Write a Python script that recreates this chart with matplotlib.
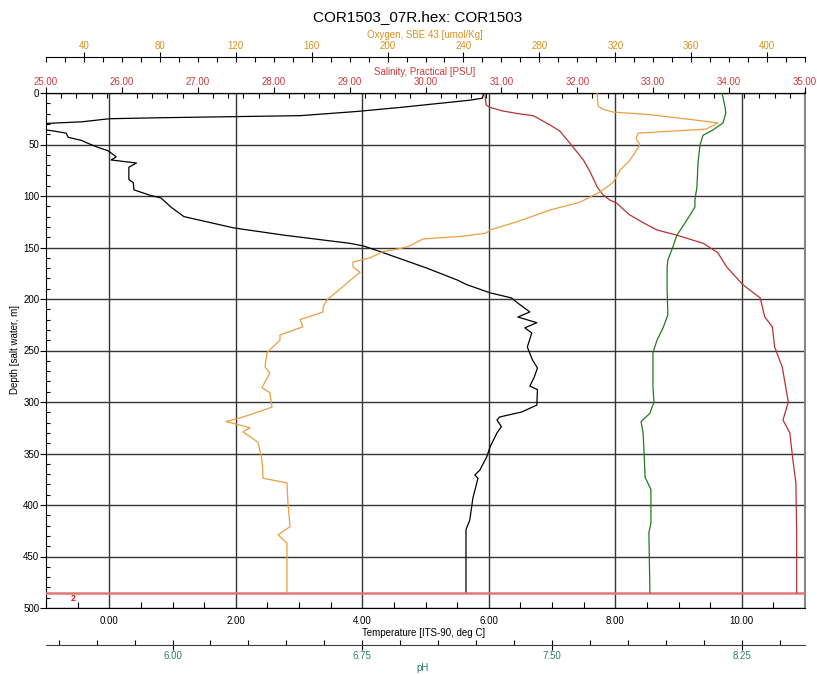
import matplotlib
matplotlib.use('Agg')
import matplotlib.pyplot as plt
from matplotlib.ticker import MultipleLocator, FormatStrFormatter

# Perfil CTD, profundidad en metros
temp_depth = [0, 5, 7, 14, 18, 22, 24, 25, 28, 29.5, 31, 34, 36, 37, 39, 43, 46, 49, 53, 56,
              62, 65, 68, 72, 84, 87, 94, 99, 102, 111, 120, 131, 138, 146, 148.5, 155, 170,
              181.5, 186, 194, 199, 204, 212.6, 217.5, 223, 228, 233, 246.6, 259, 267, 275.7,
              284.5, 288, 303, 309.7, 314.6, 317.5, 324, 330, 343.7, 353, 366, 371, 374, 393,
              414.6, 424, 485]
temp = [5.92, 5.90, 5.70, 4.60, 3.90, 3.02, 0.82, 0.00, -0.44, -0.98, -1.25, -1.20, -0.98,
        -0.87, -0.68, -0.65, -0.44, -0.33, -0.17, -0.02, 0.11, 0.03, 0.43, 0.31, 0.31, 0.38,
        0.39, 0.63, 0.82, 0.98, 1.18, 1.97, 2.76, 3.81, 4.02, 4.33, 5.02, 5.50, 5.65, 6.02,
        6.36, 6.46, 6.65, 6.46, 6.76, 6.57, 6.68, 6.61, 6.69, 6.77, 6.72, 6.65, 6.77, 6.76,
        6.52, 6.17, 6.13, 6.20, 6.13, 6.02, 5.97, 5.86, 5.78, 5.83, 5.75, 5.70, 5.64, 5.64]

sal_depth = [0, 11.7, 14, 17.5, 20.4, 22, 31, 37, 48.5, 65, 76.7, 91, 99, 104, 107, 118.4, 120,
             126, 133, 138, 146, 155, 169, 186, 199, 217.5, 227, 246.6, 266, 300, 317.5, 330,
             356, 378.6, 427, 485]
sal = [30.78, 30.80, 30.85, 31.02, 31.25, 31.42, 31.64, 31.77, 31.90, 32.08, 32.17, 32.26,
       32.34, 32.43, 32.52, 32.69, 32.73, 32.87, 33.05, 33.31, 33.66, 33.85, 33.97, 34.18,
       34.41, 34.47, 34.57, 34.60, 34.70, 34.78, 34.71, 34.80, 34.84, 34.88, 34.89, 34.89]

oxy_depth = [0, 13, 16, 18.5, 21, 26, 29, 35, 39, 44, 50.5, 65, 75, 87, 96, 106, 113.6, 125,
             133, 136, 139, 141.7, 149, 151, 154, 160, 164, 169, 174, 184.5, 188, 201, 207.8,
             212.6, 220, 227, 235, 240, 252, 266, 272, 286, 291, 305, 314.6, 319, 325, 329,
             339, 356, 374, 378.6, 398, 421, 429, 437, 484.5]
oxy = [310.4, 311.0, 314.0, 318.8, 338.0, 361.0, 374.0, 368.0, 332.0, 331.0, 333.0, 327.8,
       322.5, 318.8, 312.0, 301.4, 285.6, 268.2, 254.0, 252.0, 240.0, 218.7, 211.0, 206.6,
       197.6, 190.8, 181.8, 181.8, 185.5, 178.6, 176.5, 168.0, 166.0, 166.0, 153.9, 155.4,
       143.3, 143.3, 136.5, 135.4, 138.0, 133.8, 138.0, 139.1, 123.8, 114.9, 127.5, 123.8,
       131.7, 133.8, 134.4, 147.0, 147.5, 148.6, 142.3, 147.0, 147.0]

ph_depth = [0, 13.6, 19.4, 29, 36, 41, 50.5, 68, 91, 104, 110.7, 123, 138, 152, 162, 169, 191,
            215.5, 228, 240, 252, 285, 300, 311, 319, 330, 349.5, 373, 385, 417.5, 427, 485]
ph = [8.172, 8.184, 8.187, 8.176, 8.136, 8.097, 8.085, 8.077, 8.073, 8.065, 8.065, 8.034,
      7.994, 7.974, 7.958, 7.955, 7.955, 7.958, 7.939, 7.915, 7.899, 7.899, 7.903, 7.887,
      7.852, 7.860, 7.864, 7.868, 7.891, 7.891, 7.883, 7.887]

bottom_depth = 485

plt.rcParams['font.family'] = ['Liberation Sans', 'DejaVu Sans']

W, H = 817, 675
fig = plt.figure(figsize=(W / 100, H / 100), dpi=100)

c_sal, c_sal_txt = '#b83232', '#c83c3c'
c_oxy, c_oxy_txt = '#e8a040', '#d8901c'
c_ph, c_ph_txt = '#1f7a1f', '#2e8060'
c_grid = '#353535'

# Eje principal: temperatura vs profundidad
ax = fig.add_axes([46 / W, 1 - 608 / H, (805 - 46) / W, (608 - 93) / H])
ax.set_xlim(-1, 11)
ax.set_ylim(500, 0)
ax.xaxis.set_major_locator(MultipleLocator(2))
ax.xaxis.set_minor_locator(MultipleLocator(0.5))
ax.xaxis.set_major_formatter(FormatStrFormatter('%.2f'))
ax.yaxis.set_major_locator(MultipleLocator(50))
ax.yaxis.set_minor_locator(MultipleLocator(10))
ax.yaxis.set_major_formatter(FormatStrFormatter('%d'))
ax.tick_params(axis='x', which='major', length=0, labelsize=7, pad=6)
ax.tick_params(axis='x', which='minor', direction='in', length=4.5, width=0.8)
ax.tick_params(axis='y', which='major', direction='out', length=4.3, labelsize=7, pad=0.5)
ax.tick_params(axis='y', which='minor', direction='in', length=3, width=0.8)
ax.grid(which='major', color=c_grid, lw=1)
ax.spines['right'].set_color('#888888')
ax.spines['right'].set_linewidth(1.5)
ax.plot(temp, temp_depth, color='black', lw=0.9)
ax.axhline(bottom_depth, color='#e07878', lw=1.8, zorder=5)
ax.text(-0.57, 491, '2', color='#d02020', fontsize=6.5, fontweight='bold',
        ha='center', va='center')

# Salinidad (eje superior)
ax_s = ax.twiny()
ax_s.set_xlim(25, 35)
ax_s.xaxis.set_major_locator(MultipleLocator(1))
ax_s.xaxis.set_minor_locator(MultipleLocator(0.2))
ax_s.xaxis.set_major_formatter(FormatStrFormatter('%.2f'))
ax_s.tick_params(axis='x', which='major', direction='out', length=4.3, labelsize=7,
                 labelcolor=c_sal_txt, pad=0.3)
ax_s.tick_params(axis='x', which='minor', direction='in', length=3.5, width=0.8)
for s in ['left', 'right', 'bottom']:
    ax_s.spines[s].set_visible(False)
ax_s.plot(sal, sal_depth, color=c_sal, lw=0.9)

# Oxigeno (eje superior exterior)
ax_o = ax.twiny()
ax_o.set_xlim(20, 420)
ax_o.spines['top'].set_position(('axes', 1 + (93 - 57) / 515))
for s in ['left', 'right', 'bottom']:
    ax_o.spines[s].set_visible(False)
ax_o.xaxis.set_major_locator(MultipleLocator(40))
ax_o.xaxis.set_minor_locator(MultipleLocator(10))
ax_o.xaxis.set_major_formatter(FormatStrFormatter('%d'))
ax_o.tick_params(axis='x', which='major', direction='inout', length=7.2, labelsize=7,
                 labelcolor=c_oxy_txt, pad=0.5)
ax_o.tick_params(axis='x', which='minor', direction='in', length=3.6, width=0.8)
ax_o.plot(oxy, oxy_depth, color=c_oxy, lw=0.9)

# pH (eje inferior exterior)
ax_p = ax.twiny()
ax_p.set_xlim(5.5, 8.5)
ax_p.xaxis.set_ticks_position('bottom')
ax_p.spines['bottom'].set_position(('axes', -(645 - 608) / 515))
ax_p.spines['bottom'].set_color('#404040')
for s in ['left', 'right', 'top']:
    ax_p.spines[s].set_visible(False)
ax_p.xaxis.set_major_locator(MultipleLocator(0.75))
ax_p.xaxis.set_minor_locator(MultipleLocator(0.15))
ax_p.xaxis.set_major_formatter(FormatStrFormatter('%.2f'))
ax_p.tick_params(axis='x', which='major', direction='inout', length=7.2, labelsize=7,
                 labelcolor=c_ph_txt, pad=0.5)
ax_p.tick_params(axis='x', which='minor', direction='in', length=3.6, width=0.8)
ax_p.plot(ph, ph_depth, color=c_ph, lw=0.9)

# Textos
fig.text(418 / W, 1 - 17 / H, 'COR1503_07R.hex: COR1503', ha='center', va='center', fontsize=11)
fig.text(425 / W, 1 - 35 / H, 'Oxygen, SBE 43 [umol/Kg]', ha='center', va='center',
         fontsize=7, color=c_oxy_txt)
fig.text(425 / W, 1 - 72 / H, 'Salinity, Practical [PSU]', ha='center', va='center',
         fontsize=7, color=c_sal_txt)
fig.text(424 / W, 1 - 633 / H, 'Temperature [ITS-90, deg C]', ha='center', va='center',
         fontsize=7)
fig.text(423 / W, 1 - 668 / H, 'pH', ha='center', va='center', fontsize=7, color=c_ph_txt)
fig.text(15 / W, 1 - 350 / H, 'Depth [salt water, m]', ha='center', va='center',
         fontsize=7, rotation=90)

fig.savefig('out.png', dpi=100)
